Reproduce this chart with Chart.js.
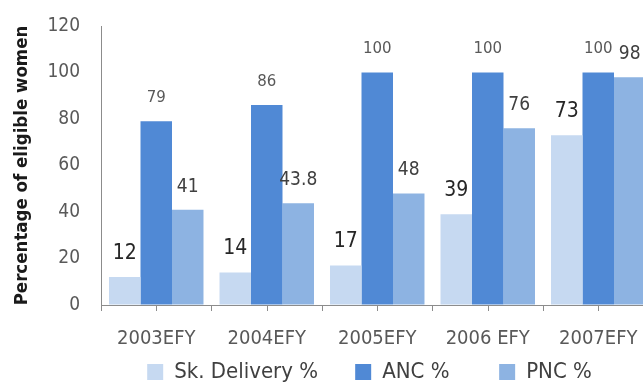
<!DOCTYPE html>
<html lang="en">
<head>
<meta charset="UTF-8">
<title>Skilled delivery, ANC and PNC coverage</title>
<script src="https://cdn.jsdelivr.net/npm/chart.js"></script>
<style>
  html, body { margin: 0; padding: 0; background: #fff; overflow: hidden; }
  #wrap { position: relative; width: 739px; height: 393px; }
</style>
</head>
<body>
<div id="wrap"><canvas id="coverageChart"></canvas></div>
<script>
var years = ['2003EFY', '2004EFY', '2005EFY', '2006 EFY', '2007EFY'];
var skDelivery = [12, 14, 17, 39, 73];
var anc = [79, 86, 100, 100, 100];
var pnc = [41, 43.8, 48, 76, 98];
var yTicks = [0, 20, 40, 60, 80, 100, 120];

var FONT = '"DejaVu Sans Condensed", "DejaVu Sans", sans-serif';
// extra room after each legend entry (in spaces), the last one needs none
var legendTrail = [4, 6, 0];

// value text above every bar + small marks under each category centre
var barLabels = {
  id: 'barLabels',
  afterDatasetsDraw: function (chart) {
    var ctx = chart.ctx;
    chart.data.datasets.forEach(function (ds, i) {
      var meta = chart.getDatasetMeta(i);
      ctx.save();
      ctx.font = ds.labelFont;
      ctx.fillStyle = ds.labelColor;
      ctx.textAlign = 'center';
      ctx.textBaseline = 'middle';
      meta.data.forEach(function (bar, j) {
        ctx.fillText(String(ds.data[j]), bar.x, bar.y - ds.labelGap);
      });
      ctx.restore();
    });
  },
  afterDraw: function (chart) {
    var x = chart.scales.x, ctx = chart.ctx;
    ctx.save();
    ctx.strokeStyle = '#8c8c8c';
    ctx.lineWidth = 1;
    years.forEach(function (y, j) {
      var px = Math.round(x.getPixelForValue(j)) + 0.5;
      ctx.beginPath();
      ctx.moveTo(px, x.top);
      ctx.lineTo(px, x.top + 6);
      ctx.stroke();
    });
    ctx.restore();
  }
};

new Chart(document.getElementById('coverageChart'), {
  type: 'bar',
  data: {
    labels: years,
    datasets: [{
      label: 'Sk. Delivery %',
      data: skDelivery,
      backgroundColor: '#c6d9f1',
      labelFont: '21px ' + FONT,
      labelColor: '#262626',
      labelGap: 24
    }, {
      label: 'ANC %',
      data: anc,
      backgroundColor: '#5089d5',
      labelFont: '15px "DejaVu Sans", sans-serif',
      labelColor: '#595959',
      labelGap: 23
    }, {
      label: 'PNC %',
      data: pnc,
      backgroundColor: '#8db3e2',
      labelFont: '19px ' + FONT,
      labelColor: '#404040',
      labelGap: 23
    }]
  },
  options: {
    responsive: true,
    maintainAspectRatio: false,
    animation: false,
    layout: { padding: { left: 0, right: 0, top: 26, bottom: 0 } },
    datasets: {
      bar: { categoryPercentage: 0.855, barPercentage: 1.0, borderWidth: 0 }
    },
    scales: {
      x: {
        grid: { display: true, drawOnChartArea: false, drawTicks: true, tickLength: 6, offset: true, color: '#8c8c8c' },
        border: { display: true, color: '#8c8c8c' },
        ticks: { color: '#595959', font: { family: FONT, size: 20 }, padding: 16, maxRotation: 0, autoSkip: false },
        afterFit: function (s) { s.height = 44; }
      },
      y: {
        min: yTicks[0],
        max: yTicks[yTicks.length - 1],
        // invisible tick marks keep the labels away from the axis line
        grid: { display: true, drawOnChartArea: false, drawTicks: true, tickLength: 18, color: 'rgba(0,0,0,0)' },
        border: { display: true, color: '#8c8c8c' },
        ticks: { stepSize: yTicks[1] - yTicks[0], color: '#595959', font: { family: FONT, size: 19 }, padding: 3 },
        title: {
          display: true,
          text: 'Percentage of eligible women',
          color: '#1a1a1a',
          font: { family: FONT, size: 18.5, weight: 'bold' },
          padding: { top: 11, bottom: 0 }
        },
        afterFit: function (s) { s.width = 101; }
      },
      spacer: {
        position: 'right',
        display: true,
        grid: { display: false },
        border: { display: false },
        ticks: { display: false },
        afterFit: function (s) { s.width = 85.5; }
      }
    },
    plugins: {
      legend: {
        position: 'bottom',
        labels: {
          boxWidth: 16,
          boxHeight: 16,
          padding: 12,
          color: '#404040',
          font: { family: FONT, size: 22 },
          generateLabels: function (chart) {
            var items = Chart.defaults.plugins.legend.labels.generateLabels(chart);
            items.forEach(function (it, i) {
              it.text = it.text + ' '.repeat(legendTrail[i]);
            });
            return items;
          }
        }
      },
      tooltip: { enabled: false }
    }
  },
  plugins: [barLabels]
});
</script>
</body>
</html>
